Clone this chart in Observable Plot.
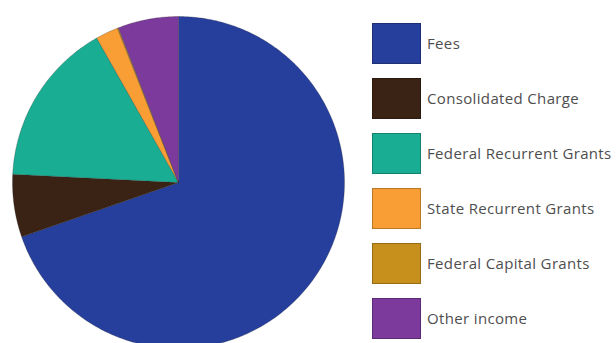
<!DOCTYPE html>
<html>
<head>
<meta charset="utf-8">
<script src="https://cdn.jsdelivr.net/npm/d3@7"></script>
<script src="https://cdn.jsdelivr.net/npm/@observablehq/plot@0.6"></script>
<style>
  html, body { margin: 0; padding: 0; background: #fff; }
  #wrap { position: relative; width: 616px; height: 343px; overflow: hidden; }
  #chart { position: absolute; left: 0; top: 0; }
  .item { position: absolute; left: 372px; height: 40px; display: flex; align-items: center; }
  .sw { width: 47px; height: 39px; border: 1px solid rgba(0,0,0,0.25); box-sizing: content-box; }
  .lab { margin-left: 6px; font-family: "Open Sans", sans-serif; font-size: 15px; color: #4e4e4e; white-space: nowrap; letter-spacing: 0.35px; }
</style>
</head>
<body>
<div id="wrap"><div id="chart"></div><div id="legend"></div></div>
<script>
const categories = ["Fees", "Consolidated Charge", "Federal Recurrent Grants", "State Recurrent Grants", "Federal Capital Grants", "Other income"];
const shares = [69.7, 6.1, 16.0, 2.2, 0.1, 5.9];
const colors = ["#273f9c", "#3a2314", "#19ad93", "#f89e35", "#c78f1c", "#7c3a9d"];

const arcs = d3.pie().sort(null).value(d => d)(shares);
const pts = [];
arcs.forEach((a, i) => {
  const name = categories[i];
  pts.push({name, x: 0, y: 0});
  const n = Math.max(2, Math.ceil((a.endAngle - a.startAngle) / 0.01));
  for (let k = 0; k <= n; k++) {
    const t = a.startAngle + (a.endAngle - a.startAngle) * k / n;
    pts.push({name, x: Math.sin(t), y: Math.cos(t)});
  }
  pts.push({name, x: 0, y: 0});
});

const chart = Plot.plot({
  width: 360,
  height: 343,
  margin: 0,
  x: {domain: [-1, 1], range: [12, 344], axis: null},
  y: {domain: [-1, 1], range: [348, 16], axis: null},
  color: {domain: categories, range: colors},
  marks: [
    Plot.line(pts, {x: "x", y: "y", z: "name", fill: "name", stroke: "#222", strokeWidth: 0.5, strokeOpacity: 0.5, curve: "linear"})
  ]
});
document.getElementById("chart").appendChild(chart);

const legend = document.getElementById("legend");
categories.forEach((c, i) => {
  const item = document.createElement("div");
  item.className = "item";
  item.style.top = (23 + i * 55) + "px";
  const sw = document.createElement("div");
  sw.className = "sw";
  sw.style.background = colors[i];
  const lab = document.createElement("div");
  lab.className = "lab";
  lab.textContent = c;
  item.appendChild(sw);
  item.appendChild(lab);
  legend.appendChild(item);
});
</script>
</body>
</html>
